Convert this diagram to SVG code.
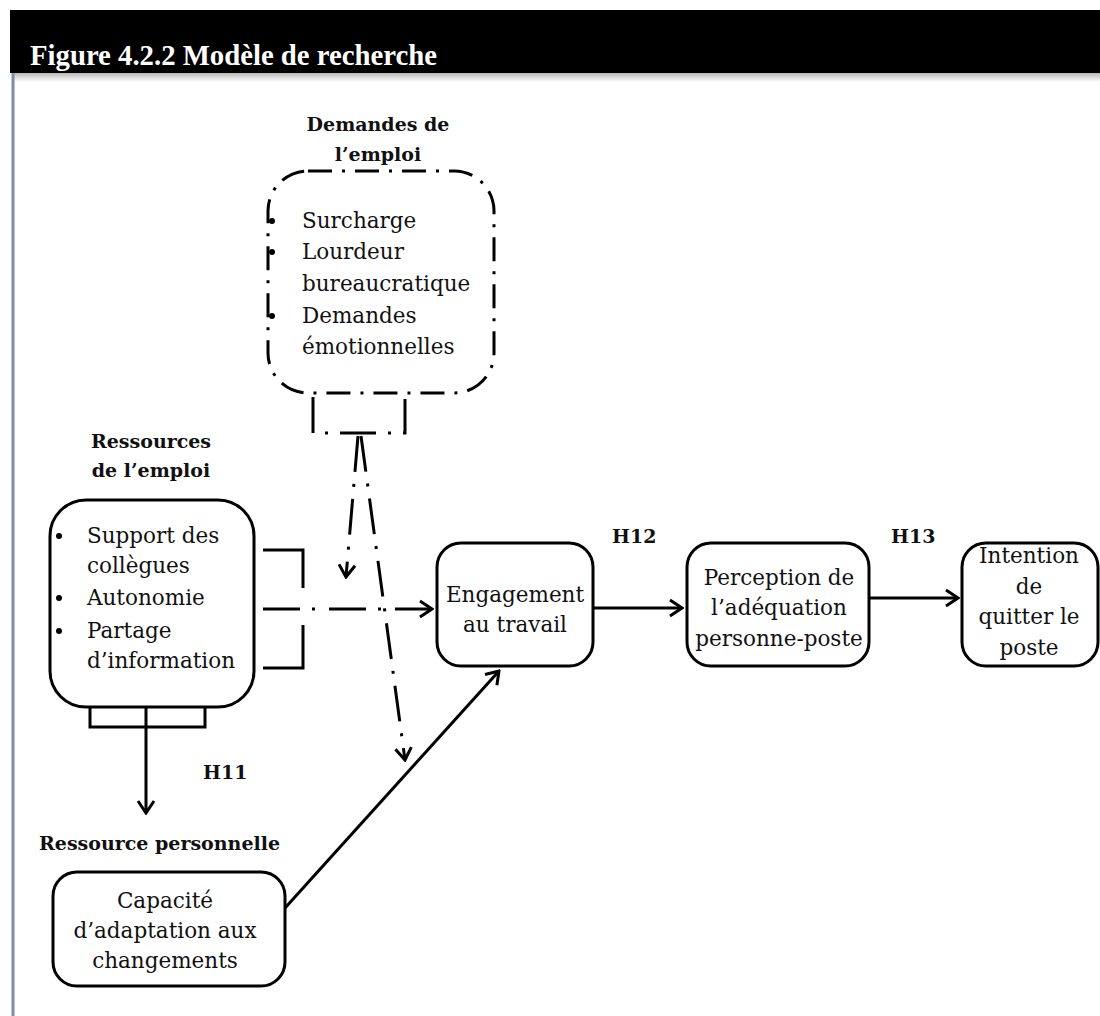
<svg xmlns="http://www.w3.org/2000/svg" width="1100" height="1016" viewBox="0 0 1100 1016">
  <defs>
    <linearGradient id="shade" x1="0" y1="0" x2="0" y2="1">
      <stop offset="0" stop-color="#b8b8b8"/>
      <stop offset="1" stop-color="#ffffff"/>
    </linearGradient>
    <marker id="arr" viewBox="0 0 16 20" refX="14" refY="10" markerWidth="16" markerHeight="20" markerUnits="userSpaceOnUse" orient="auto">
      <path d="M2,2 L14,10 L2,18" fill="none" stroke="#000" stroke-width="3" stroke-linejoin="miter"/>
    </marker>
    <style>
      .box { fill: #fff; stroke: #000; stroke-width: 3; }
      .dbox { fill: #fff; stroke: #000; stroke-width: 3; stroke-dasharray: 24 10 3 10; }
      .t { font-family: "DejaVu Serif", serif; font-size: 21.5px; fill: #111; }
      .b { font-family: "DejaVu Serif", serif; font-size: 19px; font-weight: bold; fill: #111; }
      .c { text-anchor: middle; }
      .ln { fill: none; stroke: #000; stroke-width: 3; }
      .dd { fill: none; stroke: #000; stroke-width: 3; stroke-dasharray: 36 12 3 12; }
    </style>
  </defs>
  <rect width="1100" height="1016" fill="#fff"/>
  <!-- header -->
  <rect x="10" y="10" width="1090" height="63" fill="#000"/>
  <rect x="14" y="73" width="1086" height="9" fill="url(#shade)"/>
  <line x1="13" y1="73" x2="13" y2="1016" stroke="#7d8ea3" stroke-width="3"/>
  <text x="30" y="65" font-family="Liberation Serif, serif" font-weight="bold" font-size="30" fill="#fff" textLength="407" lengthAdjust="spacingAndGlyphs">Figure 4.2.2 Modèle de recherche</text>

  <!-- connectors -->
  <g id="connectors">
    <path class="dd" d="M313,397 V433 H405 V397"/>
    <path class="dd" d="M358,436 L346,577" marker-end="url(#arr)"/>
    <path class="dd" d="M361,436 L405,760" marker-end="url(#arr)"/>
    <path class="ln" d="M263,550 H303 V588"/>
    <path class="ln" d="M303,625 V668 H263"/>
    <path class="ln" d="M263,609 H300"/>
    <path class="dd" d="M312,609 H432" marker-end="url(#arr)" style="stroke-dasharray:3 14 37 12"/>
    <path class="ln" d="M90,707 V727 H205 V707"/>
    <path class="ln" d="M146,707 V813" marker-end="url(#arr)"/>
    <path class="ln" d="M285,908 L499,671" marker-end="url(#arr)"/>
    <path class="ln" d="M593,608 H682" marker-end="url(#arr)"/>
    <path class="ln" d="M870,598 H958" marker-end="url(#arr)"/>
    <text class="b" x="612" y="543">H12</text>
    <text class="b" x="891" y="543">H13</text>
    <text class="b" x="203" y="779">H11</text>
  </g>

  <!-- Demandes de l'emploi -->
  <g id="demandes">
    <text class="b c" x="378" y="131">Demandes de</text>
    <text class="b c" x="378" y="161">l’emploi</text>
    <rect class="dbox" x="268" y="171" width="226" height="222" rx="40" ry="40"/>
    <circle cx="272" cy="221" r="3"/>
    <circle cx="272" cy="252" r="3"/>
    <circle cx="272" cy="316" r="3"/>
    <text class="t" x="302" y="228">Surcharge</text>
    <text class="t" x="302" y="259">Lourdeur</text>
    <text class="t" x="302" y="291">bureaucratique</text>
    <text class="t" x="302" y="323">Demandes</text>
    <text class="t" x="302" y="354">émotionnelles</text>
  </g>

  <!-- Ressources de l'emploi -->
  <g id="ressources">
    <text class="b c" x="151" y="448">Ressources</text>
    <text class="b c" x="151" y="477">de l’emploi</text>
    <rect class="box" x="50" y="500" width="204" height="207" rx="36" ry="36"/>
    <circle cx="59" cy="536" r="3"/>
    <circle cx="59" cy="598" r="3"/>
    <circle cx="59" cy="631" r="3"/>
    <text class="t" x="87" y="543">Support des</text>
    <text class="t" x="87" y="573">collègues</text>
    <text class="t" x="87" y="605">Autonomie</text>
    <text class="t" x="87" y="638">Partage</text>
    <text class="t" x="87" y="668">d’information</text>
  </g>

  <!-- Ressource personnelle -->
  <g id="capacite">
    <text class="b" x="39" y="850">Ressource personnelle</text>
    <rect class="box" x="53" y="872" width="232" height="114" rx="24" ry="24"/>
    <text class="t c" x="165" y="908">Capacité</text>
    <text class="t c" x="165" y="938">d’adaptation aux</text>
    <text class="t c" x="165" y="968">changements</text>
  </g>

  <!-- Engagement -->
  <g id="engagement">
    <rect class="box" x="437" y="543" width="156" height="123" rx="24" ry="24"/>
    <text class="t c" x="515" y="602">Engagement</text>
    <text class="t c" x="515" y="632">au travail</text>
  </g>

  <!-- Perception -->
  <g id="perception">
    <rect class="box" x="687" y="543" width="182" height="123" rx="24" ry="24"/>
    <text class="t c" x="779" y="585">Perception de</text>
    <text class="t c" x="779" y="615">l’adéquation</text>
    <text class="t c" x="779" y="646">personne-poste</text>
  </g>

  <!-- Intention -->
  <g id="intention">
    <rect class="box" x="962" y="543" width="136" height="123" rx="24" ry="24"/>
    <text class="t c" x="1029" y="563">Intention</text>
    <text class="t c" x="1029" y="594">de</text>
    <text class="t c" x="1029" y="624">quitter le</text>
    <text class="t c" x="1029" y="655">poste</text>
  </g>
</svg>
